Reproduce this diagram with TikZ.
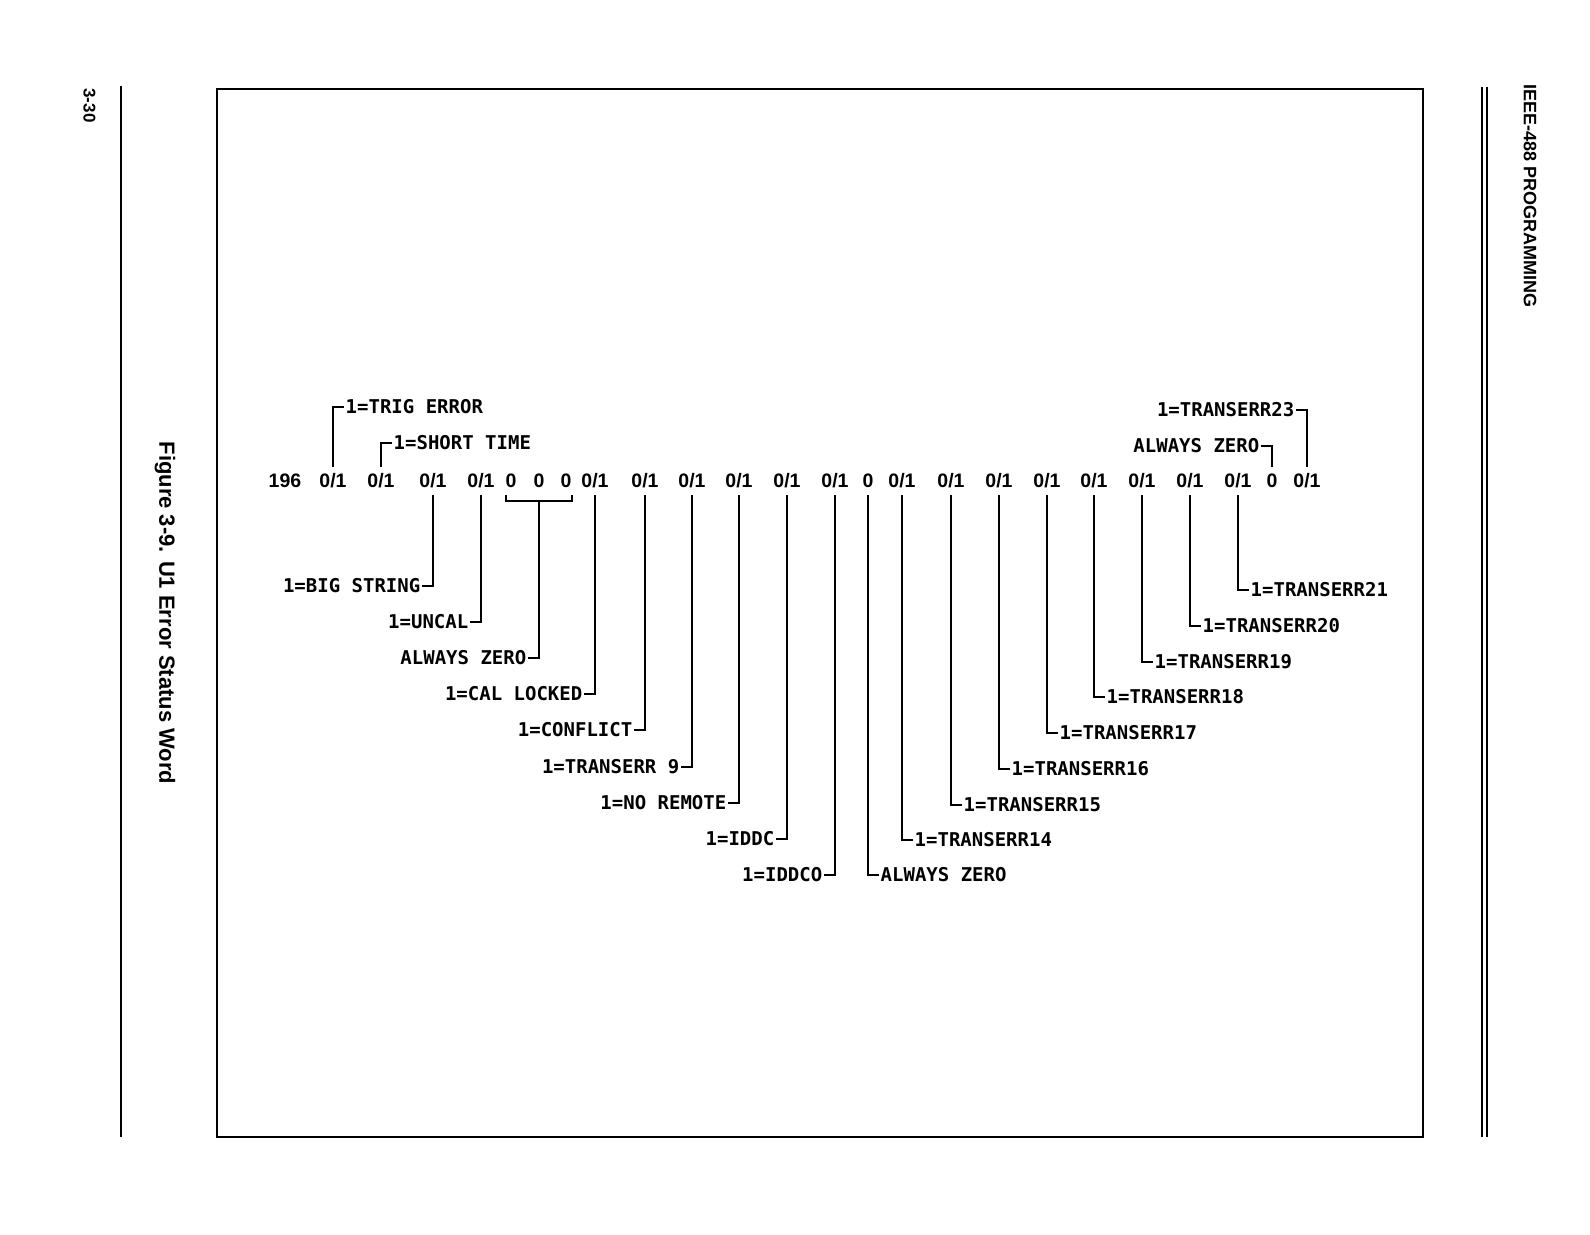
\documentclass[tikz,border=0pt]{standalone}
\usepackage{fontspec}
\setmainfont{Liberation Sans}
\newfontfamily\plotter{DejaVu Sans Mono}
\usetikzlibrary{calc,positioning}

\begin{document}
\begin{tikzpicture}[x=1pt,y=-1pt,
bit/.style={font=\bfseries\fontsize{19.5}{19.5}\selectfont,inner sep=0pt,text height=13.5pt,text depth=0pt,minimum height=28pt},
flag/.style={font=\plotter\bfseries\fontsize{19}{19}\selectfont,inner sep=1.5pt,text height=13pt,text depth=0pt},
wire/.style={line width=1.8pt},
margin/.style={font=\bfseries,rotate=-90,inner sep=0pt}]
\useasboundingbox (0,0) rectangle (1590,1234);
% page furniture
\draw[line width=1.6pt] (217,89) rectangle (1423,1137);
\draw[line width=2.2pt] (121,86) -- (121,1137);
\draw[line width=1.4pt] (1482,87) -- (1482,1137);
\draw[line width=1.4pt] (1487,87) -- (1487,1137);
\node[margin,font=\bfseries\fontsize{17}{17}\selectfont] (pageno) at (89.5,105.5) {3-30};
\node[margin,font=\bfseries\fontsize{22}{22}\selectfont] (caption) at (165,613) {Figure 3-9. U1 Error Status Word};
\node[margin,font=\bfseries\fontsize{18}{18}\selectfont] (header) at (1530,196) {IEEE-488 PROGRAMMING};
% the status word
\node[bit] (code) at (285,481) {196};
\node[bit] (b1) at (333,481) {0/1};
\node[bit] (b2) at (381,481) {0/1};
\node[bit] (b3) at (433,481) {0/1};
\node[bit] (b4) at (481,481) {0/1};
\node[bit] (b5) at (511,481) {0};
\node[bit] (b6) at (539,481) {0};
\node[bit] (b7) at (566,481) {0};
\node[bit] (b8) at (595,481) {0/1};
\node[bit] (b9) at (645,481) {0/1};
\node[bit] (b10) at (692,481) {0/1};
\node[bit] (b11) at (739,481) {0/1};
\node[bit] (b12) at (787,481) {0/1};
\node[bit] (b13) at (835,481) {0/1};
\node[bit] (b14) at (868,481) {0};
\node[bit] (b15) at (902,481) {0/1};
\node[bit] (b16) at (951,481) {0/1};
\node[bit] (b17) at (999,481) {0/1};
\node[bit] (b18) at (1047,481) {0/1};
\node[bit] (b19) at (1094,481) {0/1};
\node[bit] (b20) at (1142,481) {0/1};
\node[bit] (b21) at (1190,481) {0/1};
\node[bit] (b22) at (1238,481) {0/1};
\node[bit] (b23) at (1272,481) {0};
\node[bit] (b24) at (1307,481) {0/1};
% flags above
\node[flag,anchor=west] (trig) at ($(b1|-0,407)+(11,0)$) {1=TRIG ERROR};
\node[flag,anchor=west] (short) at ($(b2|-0,443)+(11,0)$) {1=SHORT TIME};
\node[flag,anchor=east] (zerotop) at ($(b23|-0,446)+(-11,0)$) {ALWAYS ZERO};
\node[flag,anchor=east] (tr23) at ($(b24|-0,410)+(-11,0)$) {1=TRANSERR23};
% flags below, left
\node[flag,anchor=east] (bigstr) at ($(b3|-0,586)+(-11,0)$) {1=BIG STRING};
\node[flag,anchor=east] (uncal) at ($(b4|-0,622)+(-11,0)$) {1=UNCAL};
\node[flag,anchor=east] (zeroleft) at ($(b6|-0,658)+(-11,0)$) {ALWAYS ZERO};
\node[flag,anchor=east] (callock) at ($(b8|-0,694)+(-11,0)$) {1=CAL LOCKED};
\node[flag,anchor=east] (conflict) at ($(b9|-0,730)+(-11,0)$) {1=CONFLICT};
\node[flag,anchor=east] (tr9) at ($(b10|-0,767)+(-11,0)$) {1=TRANSERR 9};
\node[flag,anchor=east] (noremote) at ($(b11|-0,803)+(-11,0)$) {1=NO REMOTE};
\node[flag,anchor=east] (iddc) at ($(b12|-0,839)+(-11,0)$) {1=IDDC};
\node[flag,anchor=east] (iddco) at ($(b13|-0,875)+(-11,0)$) {1=IDDCO};
% flags below, right
\node[flag,anchor=west] (zeroright) at ($(b14|-0,875)+(11,0)$) {ALWAYS ZERO};
\node[flag,anchor=west] (tr14) at ($(b15|-0,840)+(11,0)$) {1=TRANSERR14};
\node[flag,anchor=west] (tr15) at ($(b16|-0,805)+(11,0)$) {1=TRANSERR15};
\node[flag,anchor=west] (tr16) at ($(b17|-0,769)+(11,0)$) {1=TRANSERR16};
\node[flag,anchor=west] (tr17) at ($(b18|-0,733)+(11,0)$) {1=TRANSERR17};
\node[flag,anchor=west] (tr18) at ($(b19|-0,697)+(11,0)$) {1=TRANSERR18};
\node[flag,anchor=west] (tr19) at ($(b20|-0,662)+(11,0)$) {1=TRANSERR19};
\node[flag,anchor=west] (tr20) at ($(b21|-0,626)+(11,0)$) {1=TRANSERR20};
\node[flag,anchor=west] (tr21) at ($(b22|-0,590)+(11,0)$) {1=TRANSERR21};
% leaders
\draw[wire] (b1.north) |- (trig.west);
\draw[wire] (b2.north) |- (short.west);
\draw[wire] (b23.north) |- (zerotop.east);
\draw[wire] (b24.north) |- (tr23.east);
\draw[wire] (b3.south) |- (bigstr.east);
\draw[wire] (b4.south) |- (uncal.east);
\draw[wire] ([xshift=-5pt]b5.south) -- ++(0,6) coordinate (brk) -| ([xshift=6pt]b7.south);
\draw[wire] (b6|-brk) |- (zeroleft.east);
\draw[wire] (b8.south) |- (callock.east);
\draw[wire] (b9.south) |- (conflict.east);
\draw[wire] (b10.south) |- (tr9.east);
\draw[wire] (b11.south) |- (noremote.east);
\draw[wire] (b12.south) |- (iddc.east);
\draw[wire] (b13.south) |- (iddco.east);
\draw[wire] (b14.south) |- (zeroright.west);
\draw[wire] (b15.south) |- (tr14.west);
\draw[wire] (b16.south) |- (tr15.west);
\draw[wire] (b17.south) |- (tr16.west);
\draw[wire] (b18.south) |- (tr17.west);
\draw[wire] (b19.south) |- (tr18.west);
\draw[wire] (b20.south) |- (tr19.west);
\draw[wire] (b21.south) |- (tr20.west);
\draw[wire] (b22.south) |- (tr21.west);
\end{tikzpicture}
\end{document}
